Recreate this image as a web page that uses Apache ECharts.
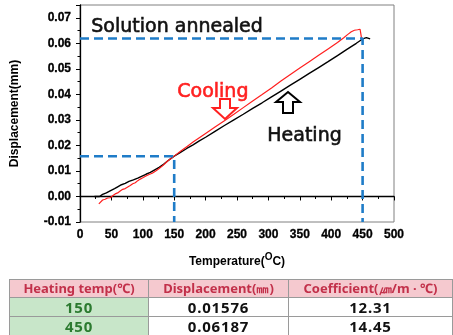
<!DOCTYPE html>
<html>
<head>
<meta charset="utf-8">
<script src="https://cdn.jsdelivr.net/npm/echarts@6/dist/echarts.min.js"></script>
<style>
  html,body{margin:0;padding:0;background:#fff;}
  #wrap{position:relative;width:453px;height:335px;overflow:hidden;}
  #chart{position:absolute;left:0;top:0;width:453px;height:335px;}
  table{position:absolute;left:9px;top:279px;border-collapse:collapse;table-layout:fixed;width:443px;font-family:"Noto Sans",sans-serif;}
  td{border:1px solid #9a9a9a;text-align:center;padding:0;line-height:17px;white-space:nowrap;overflow:hidden;}
  tr.h td{background:#f5c9cf;color:#c2304a;font-weight:bold;font-size:13px;height:17px;}
  tr.d td{font-weight:bold;font-size:15px;height:18px;color:#111;letter-spacing:0.8px;}
  tr.d td.g{background:#c8e6c9;color:#2b7a2f;}
</style>
</head>
<body>
<div id="wrap">
<div id="chart"></div>
<table id="tbl"></table>
</div>
<script>
// ---- heating curve (black) ----
const heatingTemp = [23,31,36,42,48,55,60,66,72,78,85,92,98,105,112,119,126,133,140,145,150,160,170,180,190,200,215,230,245,260,275,290,305,320,335,350,365,380,395,410,425,440,450,456,462];
const heatingDisp = [0.0000,0.0000,0.0008,0.0014,0.0022,0.0031,0.0038,0.0046,0.0051,0.0059,0.0065,0.0072,0.0079,0.0087,0.0094,0.0104,0.0114,0.0126,0.0140,0.0149,0.0158,0.0173,0.0188,0.0202,0.0218,0.0232,0.0255,0.0278,0.0300,0.0322,0.0345,0.0367,0.0390,0.0413,0.0436,0.0459,0.0482,0.0505,0.0528,0.0552,0.0576,0.0600,0.0617,0.0622,0.0617];

// ---- cooling curve (red) ----
const coolingTemp = [30,33,36,40,44,48,52,56,60,64,68,72,76,80,84,88,92,96,100,105,110,115,120,125,130,135,140,145,150,160,170,180,190,200,215,230,245,260,275,290,305,320,335,350,365,380,395,410,420,426,432,437,442,446,447,448,449];
const coolingDisp = [-0.0029,-0.0022,-0.0014,-0.0011,-0.0006,-0.0005,0.0003,0.0010,0.0014,0.0021,0.0028,0.0031,0.0037,0.0043,0.0050,0.0054,0.0062,0.0068,0.0073,0.0080,0.0086,0.0091,0.0099,0.0108,0.0117,0.0128,0.0140,0.0149,0.0158,0.0177,0.0195,0.0213,0.0230,0.0247,0.0272,0.0297,0.0322,0.0348,0.0374,0.0399,0.0425,0.0452,0.0478,0.0503,0.0528,0.0553,0.0578,0.0603,0.0622,0.0634,0.0645,0.0651,0.0653,0.0655,0.0640,0.0624,0.0621];

// ---- table / reference points ----
const tableHeader = ["Heating temp(℃)", "Displacement(㎜)", "Coefficient(㎛/m · ℃)"];
const refTemps = [150, 450];
const refDisp = ["0.01576", "0.06187"];
const refCoef = ["12.31", "14.45"];

// ---- axes ----
const xMin = 0, xMax = 500, xStep = 50;
const yMin = -0.01, yMax = 0.075, yStep = 0.01;

// ---- annotation texts ----
const titleText = "Solution annealed";
const coolText = "Cooling";
const heatText = "Heating";

function pairs(xs, ys){ return xs.map((x,i)=>[x, ys[i]]); }

const dashStyle = {color:'#1f7cc8', width:2.6, type:[9,5]};
const refLines = refTemps.map((t,i)=>({
  type:'line', symbol:'none', silent:true, z:5,
  lineStyle:dashStyle,
  data:[[xMin, parseFloat(refDisp[i])],[t, parseFloat(refDisp[i])],[t, yMin]]
}));

const labelFont = {fontFamily:'Liberation Sans', fontWeight:'bold', fontSize:12, color:'#000'};

const chart = echarts.init(document.getElementById('chart'), null, {renderer:'canvas'});
chart.setOption({
  animation:false,
  grid:{left:80, right:59, top:5, bottom:113, show:true, borderColor:'#808080', borderWidth:1, backgroundColor:'transparent'},
  xAxis:{
    type:'value', min:xMin, max:xMax, interval:xStep,
    name:'Temperature({s|O}C)', nameLocation:'middle', nameGap:30,
    nameTextStyle:{
      fontFamily:'Liberation Sans', fontWeight:'bold', fontSize:12, color:'#000',
      rich:{s:{fontFamily:'Liberation Sans', fontWeight:'bold', fontSize:10, verticalAlign:'top', padding:[0,0,9,0]}}
    },
    axisLine:{lineStyle:{color:'#000', width:1.3}},
    axisTick:{inside:false, length:4, lineStyle:{color:'#000'}},
    minorTick:{show:true, splitNumber:2, length:2.5, lineStyle:{color:'#000'}},
    splitLine:{show:false},
    axisLabel:Object.assign({margin:7, textBorderColor:'#000', textBorderWidth:0.3}, labelFont)
  },
  yAxis:{
    type:'value', min:yMin, max:yMax, interval:yStep,
    name:'Displacement(mm)', nameLocation:'middle', nameGap:59, nameRotate:90,
    nameTextStyle:{fontFamily:'Liberation Sans', fontWeight:'bold', fontSize:12, color:'#000'},
    axisLine:{lineStyle:{color:'#000', width:1.3}},
    axisTick:{inside:false, length:4, lineStyle:{color:'#000'}},
    minorTick:{show:true, splitNumber:2, length:2.5, lineStyle:{color:'#000'}},
    splitLine:{show:false},
    axisLabel:Object.assign({margin:9, textBorderColor:'#000', textBorderWidth:0.3, formatter:function(v){
      const k = v/yStep;
      if (Math.abs(k-Math.round(k))>1e-6) return '';
      return (Math.round(k)*yStep).toFixed(2);
    }}, labelFont)
  },
  series:[
    {type:'line', name:'Heating', symbol:'none', z:3, data:pairs(heatingTemp, heatingDisp), lineStyle:{color:'#000', width:1.4}},
    {type:'line', name:'Cooling', symbol:'none', z:4, data:pairs(coolingTemp, coolingDisp), lineStyle:{color:'#ff1f1f', width:1.2}}
  ].concat(refLines),
  graphic:[
    {type:'text', left:91, top:17, style:{text:titleText, font:'19px "DejaVu Sans"', fill:'#111', stroke:'#111', lineWidth:0.6}},
    {type:'text', left:177, top:82, style:{text:coolText, font:'19px "DejaVu Sans"', fill:'#ff2020', stroke:'#ff2020', lineWidth:0.6}},
    {type:'text', left:267, top:126, style:{text:heatText, font:'19px "DejaVu Sans"', fill:'#111', stroke:'#111', lineWidth:0.6}},
    {type:'polygon', x:225, y:99, shape:{points:[[-5,0],[5,0],[5,9],[12,9],[0,20],[-12,9],[-5,9]]}, style:{fill:'#fff', stroke:'#ff2020', lineWidth:2}},
    {type:'polygon', x:288, y:92, shape:{points:[[0,0],[12,10],[5,10],[5,21],[-5,21],[-5,10],[-12,10]]}, style:{fill:'#fff', stroke:'#000', lineWidth:2}}
  ]
});

// table
const tbl = document.getElementById('tbl');
let html = '<colgroup><col style="width:139px"><col style="width:140px"><col style="width:164px"></colgroup>';
html += '<tr class="h">' + tableHeader.map(h=>'<td>'+h+'</td>').join('') + '</tr>';
refTemps.forEach((t,i)=>{
  html += '<tr class="d"><td class="g">'+t+'</td><td>'+refDisp[i]+'</td><td>'+refCoef[i]+'</td></tr>';
});
tbl.innerHTML = html;
</script>
</body>
</html>
